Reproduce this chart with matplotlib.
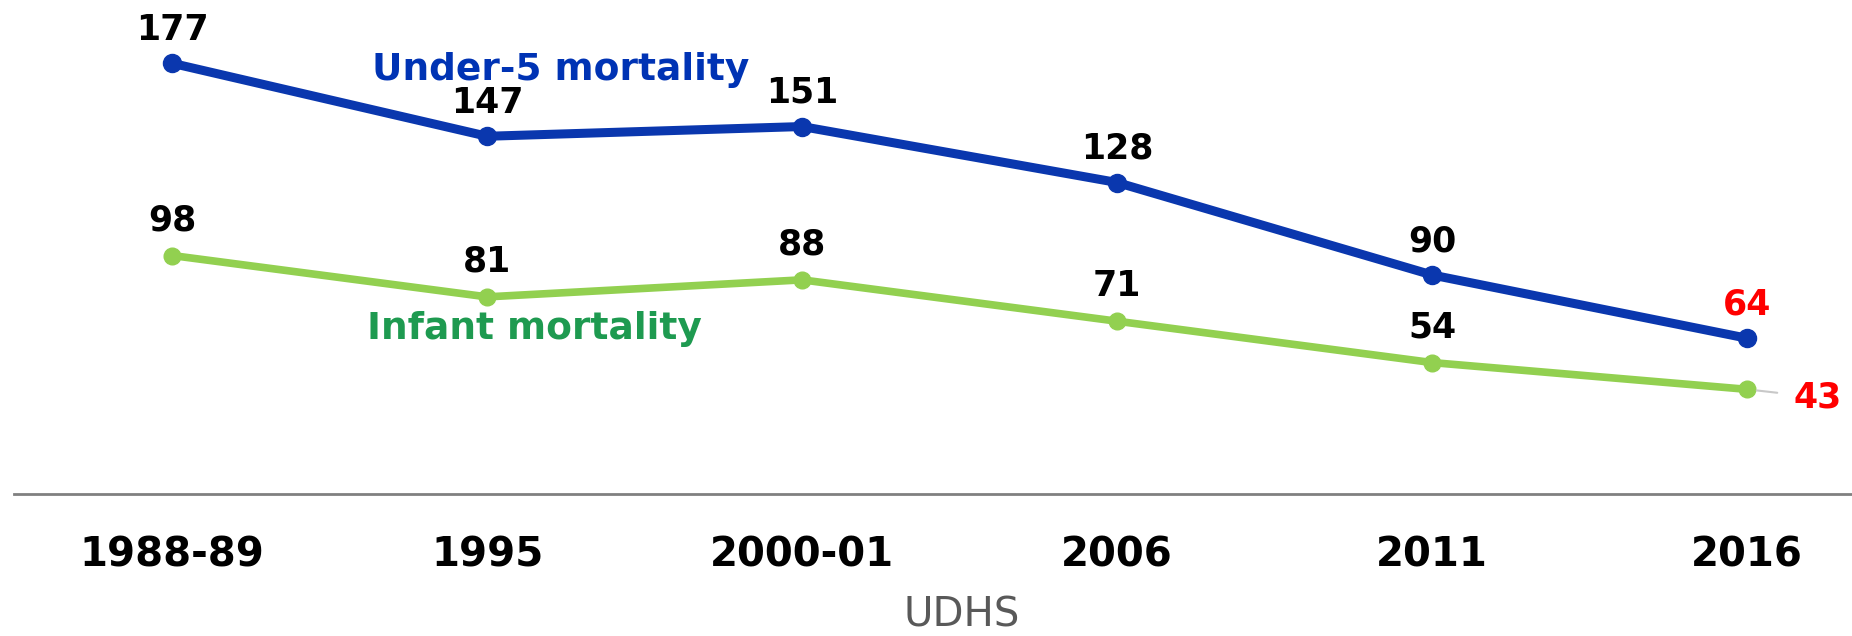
import matplotlib
matplotlib.use("Agg")
import matplotlib.pyplot as plt

# UDHS survey rounds and mortality rates (per 1,000 live births)
surveys = ["1988-89", "1995", "2000-01", "2006", "2011", "2016"]
under5 = [177, 147, 151, 128, 90, 64]
infant = [98, 81, 88, 71, 54, 43]

blue = "#0A37AE"
green = "#92D050"

fig = plt.figure(figsize=(18.52, 6.36), dpi=100)
ax = fig.add_axes([0.0076, 0.2233, 0.9924, 0.7767])

x = list(range(len(surveys)))
ax.plot(x, under5, color=blue, lw=6.5, marker="o", ms=13, clip_on=False)
ax.plot(x, infant, color=green, lw=5.5, marker="o", ms=12, clip_on=False)

# value labels, last one of each series in red
for i, v in enumerate(under5):
    c = "red" if i == len(under5) - 1 else "black"
    ax.annotate(str(v), (i, v), xytext=(0, 17), textcoords="offset points",
                ha="center", va="baseline", fontsize=25, fontweight="bold", color=c)
for i, v in enumerate(infant[:-1]):
    ax.annotate(str(v), (i, v), xytext=(0, 18), textcoords="offset points",
                ha="center", va="baseline", fontsize=25, fontweight="bold", color="black")
ax.annotate(str(infant[-1]), (x[-1], infant[-1]), xytext=(51, -13),
            textcoords="offset points", ha="center", va="baseline",
            fontsize=25, fontweight="bold", color="red",
            arrowprops=dict(arrowstyle="-", color="#C8C8C8", lw=1.5,
                            shrinkA=10, shrinkB=7))

# series names
ax.text(1.235, 170, "Under-5 mortality", color="#0033B4", fontsize=27,
        fontweight="bold", ha="center", va="baseline")
ax.text(1.151, 63.7, "Infant mortality", color="#1E9A50", fontsize=27,
        fontweight="bold", ha="center", va="baseline")

ax.set_xlim(-0.5016, 5.333)
ax.set_ylim(0, 203)
ax.set_xticks(x)
ax.set_xticklabels(surveys, fontsize=29, fontweight="bold")
ax.tick_params(axis="x", length=0, pad=30)
ax.set_yticks([])
for s in ["top", "left", "right"]:
    ax.spines[s].set_visible(False)
ax.spines["bottom"].set_color("#808080")
ax.spines["bottom"].set_linewidth(2)
ax.set_xlabel("UDHS", fontsize=29, color="#595959")
ax.xaxis.set_label_coords(0.5158, -0.205)
ax.xaxis.label.set_va("top")

fig.savefig("out.png", dpi=100)
